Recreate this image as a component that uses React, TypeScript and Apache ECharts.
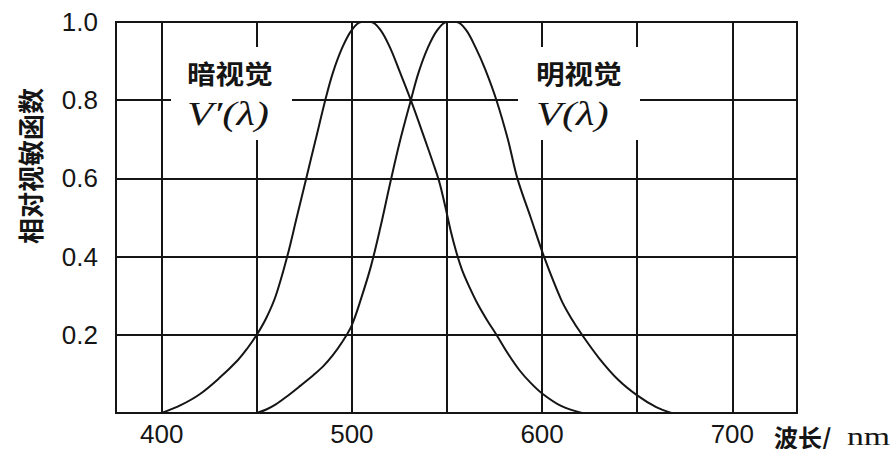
import React, { useEffect, useRef } from "react";
import * as echarts from "echarts";

const scotopicWavelengths = [400, 410, 420, 430, 440, 445, 450, 455, 460, 466, 471, 476, 481, 486, 490, 495, 500, 505, 510, 515, 520, 525, 531, 538, 543, 546, 549, 552, 555, 558, 562, 566, 571, 576, 582, 588, 594, 600, 610, 621];
const scotopicValues = [0, 0.02, 0.048, 0.088, 0.135, 0.165, 0.2, 0.243, 0.3, 0.4, 0.5, 0.6, 0.7, 0.8, 0.87, 0.935, 0.98, 1.0, 1.0, 0.98, 0.935, 0.875, 0.8, 0.705, 0.635, 0.59, 0.53, 0.465, 0.41, 0.365, 0.32, 0.28, 0.238, 0.2, 0.152, 0.11, 0.077, 0.05, 0.018, 0];

const photopicWavelengths = [450, 455, 460, 466, 473, 480, 485, 490, 495, 500, 505, 510, 515, 520, 525, 531, 535, 540, 545, 550, 555, 560, 565, 570, 576, 582, 587, 594, 601, 610, 615, 621, 630, 640, 650, 660, 668];
const photopicValues = [0, 0.009, 0.022, 0.043, 0.07, 0.098, 0.12, 0.148, 0.182, 0.225, 0.295, 0.375, 0.475, 0.585, 0.69, 0.8, 0.87, 0.935, 0.98, 1.0, 1.0, 0.98, 0.935, 0.88, 0.8, 0.7, 0.6, 0.5, 0.4, 0.29, 0.245, 0.2, 0.14, 0.085, 0.045, 0.015, 0];

const gridWavelengths = [400, 450, 500, 550, 600, 650, 700];
const xTickLabels = [400, 500, 600, 700];
const yTickLabels = ["0.2", "0.4", "0.6", "0.8", "1.0"];

const INK = "#151515";

export default function App() {
  const ref = useRef<HTMLDivElement>(null);
  useEffect(() => {
    if (!ref.current) return;
    document.body.style.margin = "0";
    const chart = echarts.init(ref.current, null, { renderer: "svg" });
    const toPairs = (xs: number[], ys: number[]) => xs.map((x, i) => [x, ys[i]]);
    chart.setOption({
      animation: false,
      backgroundColor: "#ffffff",
      grid: {
        show: true,
        left: 116,
        right: 98,
        top: 22,
        bottom: 36,
        borderColor: INK,
        borderWidth: 2,
      },
      xAxis: {
        type: "value",
        min: 376,
        max: 734,
        axisLine: { show: false },
        axisTick: { show: false },
        splitLine: { show: false },
        axisLabel: {
          customValues: xTickLabels,
          color: INK,
          fontFamily: "Liberation Sans",
          fontSize: 26,
          margin: 8,
        },
      },
      yAxis: {
        type: "value",
        min: 0,
        max: 1,
        interval: 0.2,
        axisLine: { show: false },
        axisTick: { show: false },
        splitLine: { show: true, lineStyle: { color: INK, width: 2 } },
        axisLabel: {
          color: INK,
          fontFamily: "Liberation Sans",
          fontSize: 26,
          margin: 18,
          formatter: (v: number) => {
            const s = v.toFixed(1);
            return yTickLabels.includes(s) ? s : "";
          },
        },
      },
      series: [
        {
          type: "line",
          name: "暗视觉",
          data: toPairs(scotopicWavelengths, scotopicValues),
          smooth: 0.35,
          symbol: "none",
          lineStyle: { color: INK, width: 2 },
          markLine: {
            silent: true,
            symbol: ["none", "none"],
            label: { show: false },
            lineStyle: { color: INK, width: 2, type: "solid" },
            data: gridWavelengths.map((w) => ({ xAxis: w })),
          },
        },
        {
          type: "line",
          name: "明视觉",
          data: toPairs(photopicWavelengths, photopicValues),
          smooth: 0.35,
          symbol: "none",
          lineStyle: { color: INK, width: 2 },
        },
      ],
      graphic: [
        { type: "rect", z: 100, shape: { x: 171, y: 47, width: 121, height: 93 }, style: { fill: "#ffffff" } },
        { type: "rect", z: 100, shape: { x: 518, y: 47, width: 122, height: 93 }, style: { fill: "#ffffff" } },
        {
          type: "text", z: 101, x: 187, y: 60, scaleX: 1.1,
          style: { text: "暗视觉", fill: INK, font: 'bold 26px "Noto Sans CJK SC"' },
        },
        {
          type: "text", z: 101, x: 187, y: 97, scaleX: 1.25,
          style: { text: "V′(λ)", fill: INK, font: 'italic 34px "Liberation Serif"' },
        },
        {
          type: "text", z: 101, x: 536, y: 60, scaleX: 1.1,
          style: { text: "明视觉", fill: INK, font: 'bold 26px "Noto Sans CJK SC"' },
        },
        {
          type: "text", z: 101, x: 536, y: 97, scaleX: 1.25,
          style: { text: "V(λ)", fill: INK, font: 'italic 34px "Liberation Serif"' },
        },
        {
          type: "text", z: 101, x: 29, y: 166, rotation: Math.PI / 2,
          style: { text: "相对视敏函数", fill: INK, font: 'bold 26px "Noto Sans CJK SC"', align: "center", verticalAlign: "middle" },
        },
        {
          type: "text", z: 101, x: 774, y: 436,
          style: { text: "波长/", fill: INK, font: 'bold 24px "Noto Sans CJK SC"', verticalAlign: "middle" },
        },
        {
          type: "text", z: 101, x: 847, y: 437, scaleX: 1.35,
          style: { text: "nm", fill: INK, font: '25px "Liberation Serif"', verticalAlign: "middle" },
        },
      ],
    });
    return () => chart.dispose();
  }, []);
  return <div ref={ref} style={{ width: 895, height: 449 }} />;
}
